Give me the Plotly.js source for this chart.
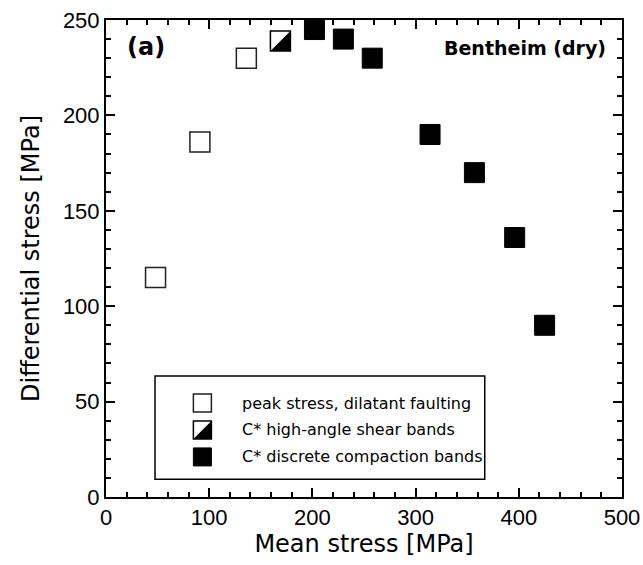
<!DOCTYPE html>
<html>
<head>
<meta charset="utf-8">
<script src="https://cdn.plot.ly/plotly-3.0.1.min.js"></script>
<style>html,body{margin:0;padding:0;background:#fff;}#chart{width:643px;height:565px;}</style>
</head>
<body>
<div id="chart"></div>
<script>
// Data
var peakX = [48, 91, 136];
var peakY = [115, 186, 230];
var shearX = [169];
var shearY = [239];
var compX = [202, 230, 258, 314, 357, 396, 425];
var compY = [245, 240, 230, 190, 170, 136, 90];
var legendLabels = ['peak stress, dilatant faulting', 'C* high-angle shear bands', 'C* discrete compaction bands'];
var xTicks = [0, 100, 200, 300, 400, 500];
var yTicks = [0, 50, 100, 150, 200, 250];

var MS = 20;
var traces = [
  {x: peakX, y: peakY, type: 'scatter', mode: 'markers', cliponaxis: false,
   marker: {symbol: 'square', size: MS, color: '#ffffff', line: {color: '#222', width: 1.5}}},
  {x: shearX, y: shearY, type: 'scatter', mode: 'markers', cliponaxis: false,
   marker: {symbol: 'square', size: MS, color: '#ffffff', line: {color: '#000', width: 1.5}}},
  {x: compX, y: compY, type: 'scatter', mode: 'markers', cliponaxis: false,
   marker: {symbol: 'square', size: MS, color: '#000000', line: {color: '#000', width: 1}}}
];

var shapes = [];
// black lower-right half of the shear-band markers
shearX.forEach(function (xv, i) {
  shapes.push({type: 'path', xref: 'x', yref: 'y', xsizemode: 'pixel', ysizemode: 'pixel',
    xanchor: xv, yanchor: shearY[i], path: 'M10,10 L10,-10 L-10,-10 Z',
    fillcolor: '#000', line: {width: 0}});
});

// manual legend
var legX = 0.1868, rowsY = [0.197, 0.1405, 0.084], half = 9;
shapes.push({type: 'rect', xref: 'paper', yref: 'paper', x0: 0.095, x1: 0.734, y0: 0.037, y1: 0.2537,
  line: {color: '#000', width: 1.5}, fillcolor: 'rgba(0,0,0,0)'});
shapes.push({type: 'rect', xref: 'paper', yref: 'paper', xsizemode: 'pixel', ysizemode: 'pixel',
  xanchor: legX, yanchor: rowsY[0], x0: -half, x1: half, y0: -half, y1: half,
  line: {color: '#222', width: 1.5}, fillcolor: '#fff'});
shapes.push({type: 'rect', xref: 'paper', yref: 'paper', xsizemode: 'pixel', ysizemode: 'pixel',
  xanchor: legX, yanchor: rowsY[1], x0: -half, x1: half, y0: -half, y1: half,
  line: {color: '#000', width: 1.5}, fillcolor: '#fff'});
shapes.push({type: 'path', xref: 'paper', yref: 'paper', xsizemode: 'pixel', ysizemode: 'pixel',
  xanchor: legX, yanchor: rowsY[1], path: 'M9,9 L9,-9 L-9,-9 Z', fillcolor: '#000', line: {width: 0}});
shapes.push({type: 'rect', xref: 'paper', yref: 'paper', xsizemode: 'pixel', ysizemode: 'pixel',
  xanchor: legX, yanchor: rowsY[2], x0: -half, x1: half, y0: -half, y1: half,
  line: {color: '#000', width: 1}, fillcolor: '#000'});

var annotations = [
  {text: '<b>(a)</b>', xref: 'paper', yref: 'paper', x: 0.037, y: 0.944, xanchor: 'left', yanchor: 'middle',
   showarrow: false, font: {family: 'DejaVu Sans', size: 24, color: '#000'}},
  {text: '<b>Bentheim (dry)</b>', xref: 'paper', yref: 'paper', x: 0.973, y: 0.942, xanchor: 'right', yanchor: 'middle',
   showarrow: false, font: {family: 'DejaVu Sans', size: 19, color: '#000'}}
];
legendLabels.forEach(function (t, i) {
  annotations.push({text: t, xref: 'paper', yref: 'paper', x: 0.260, y: rowsY[i], xanchor: 'left', yanchor: 'middle',
    showarrow: false, font: {family: 'DejaVu Sans', size: 16, color: '#000'}});
});

var axisCommon = {
  showline: true, linewidth: 2, linecolor: '#000', mirror: 'allticks',
  ticks: 'inside', ticklen: 9, tickwidth: 2, tickcolor: '#000',
  showgrid: false, zeroline: false,
  tickfont: {family: 'Liberation Sans, Arial, sans-serif', size: 22, color: '#000'}
};

var layout = {
  width: 643, height: 565,
  margin: {l: 106, r: 21, t: 20, b: 68},
  paper_bgcolor: '#fff', plot_bgcolor: '#fff',
  showlegend: false,
  xaxis: Object.assign({}, axisCommon, {
    range: [0, 500], tickvals: xTicks, ticktext: xTicks.map(String),
    minor: {dtick: 20, ticks: 'inside', ticklen: 5, tickwidth: 2, tickcolor: '#000', showgrid: false},
    title: {text: 'Mean stress [MPa]', standoff: 6, font: {family: 'DejaVu Sans', size: 24, color: '#000'}}
  }),
  yaxis: Object.assign({}, axisCommon, {
    range: [0, 250], tickvals: yTicks, ticktext: yTicks.map(String),
    minor: {dtick: 10, ticks: 'inside', ticklen: 5, tickwidth: 2, tickcolor: '#000', showgrid: false},
    title: {text: 'Differential stress [MPa]', standoff: 16, font: {family: 'DejaVu Sans', size: 24, color: '#000'}}
  }),
  shapes: shapes,
  annotations: annotations
};

Plotly.newPlot('chart', traces, layout, {displayModeBar: false, staticPlot: true});
</script>
</body>
</html>
